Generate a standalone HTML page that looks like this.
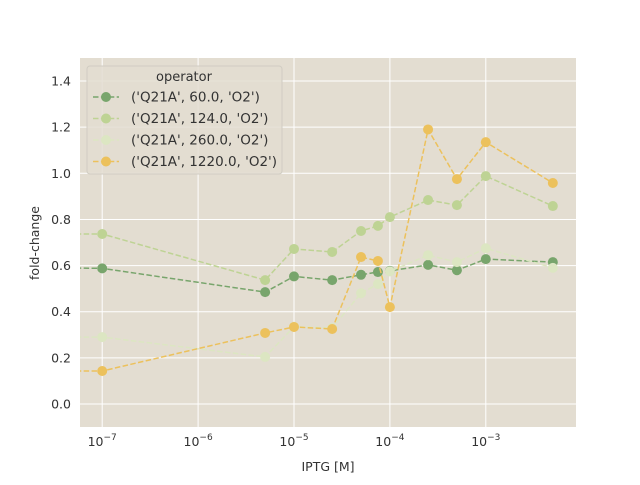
<!DOCTYPE html>
<html><head><meta charset="utf-8"><style>
body{margin:0;background:#fff;}
svg text{font-family:"DejaVu Sans","Liberation Sans",sans-serif;fill:#333;}
</style></head><body>
<svg id="chart" width="640" height="480" xmlns="http://www.w3.org/2000/svg">
<defs><clipPath id="clip"><rect x="80" y="58" width="496" height="369"/></clipPath></defs>
<rect x="80" y="58" width="496" height="369" fill="#e3ddd1"/>
<g id="grid"></g>
<g id="series" clip-path="url(#clip)"></g>
<g id="axes"></g>
<g id="legend"></g>
</svg>
<script>
const xValues=[3e-8,1e-7,5e-6,1e-5,2.5e-5,5e-5,7.5e-5,1e-4,2.5e-4,5e-4,1e-3,5e-3];
const seriesNames=["('Q21A', 60.0, 'O2')","('Q21A', 124.0, 'O2')","('Q21A', 260.0, 'O2')","('Q21A', 1220.0, 'O2')"];
const q60=[0.59,0.588,0.485,0.553,0.537,0.56,0.572,0.577,0.603,0.58,0.628,0.615];
const q124=[0.737,0.737,0.537,0.672,0.659,0.75,0.772,0.81,0.884,0.862,0.988,0.858];
const q260=[0.29,0.29,0.204,0.335,0.33,0.48,0.52,0.575,0.645,0.615,0.675,0.59];
const q1220=[0.143,0.143,0.308,0.334,0.325,0.637,0.62,0.42,1.19,0.975,1.135,0.958];
const yTicks=[0,0.2,0.4,0.6,0.8,1.0,1.2,1.4];
const xTicks=[-7,-6,-5,-4,-3];
const colors=["#78a56c","#bed394","#dce6c2","#ecc15c"];
const NS="http://www.w3.org/2000/svg";
function X(v){return 294+95.9*(Math.log10(v)+5);}
function Y(v){return 404-v*230.7;}
function mk(t,a,p){const e=document.createElementNS(NS,t);for(const k in a)e.setAttribute(k,a[k]);p.appendChild(e);return e;}
const grid=document.getElementById('grid'),axes=document.getElementById('axes'),ser=document.getElementById('series'),leg=document.getElementById('legend');
yTicks.forEach(t=>{const y=Y(t);
 const l=mk('line',{x1:80,x2:576,y1:y,y2:y,stroke:'#fff','stroke-width':1},grid);
 
 const tx=mk('text',{x:71,y:y+4.5,'text-anchor':'end','font-size':12.5},axes);tx.textContent=t.toFixed(1);
 });
xTicks.forEach(p=>{const x=X(Math.pow(10,p));
 const l=mk('line',{x1:x,x2:x,y1:58,y2:427,stroke:'#fff'},grid);
 
 const tx=mk('text',{x:x,y:446,'text-anchor':'middle','font-size':12.5},axes);
 tx.innerHTML='10<tspan dy="-6" font-size="9">−'+(-p)+'</tspan>';
 
});
let t=mk('text',{x:328,y:471,'text-anchor':'middle','font-size':12.5},axes);t.textContent='IPTG [M]';

t=mk('text',{x:0,y:0,'text-anchor':'middle','font-size':12.5,transform:'translate(39,243) rotate(-90)'},axes);t.textContent='fold-change';

[q60,q124,q260,q1220].forEach((vals,i)=>{
 const pts=xValues.map((x,j)=>X(x)+','+Y(vals[j])).join(' ');
 const pl=mk('polyline',{points:pts,fill:'none',stroke:colors[i],'stroke-width':1.5,'stroke-dasharray':'5.5,2.4'},ser);
 
 xValues.forEach((x,j)=>{const c=mk('circle',{cx:X(x),cy:Y(vals[j]),r:5,fill:colors[i]},ser);
  });
});
const lb=mk('rect',{x:87,y:66,width:195,height:108,rx:3,fill:'#e3ddd1',stroke:'#d0ccc2','fill-opacity':0.85},leg);

t=mk('text',{x:184,y:81,'text-anchor':'middle','font-size':13},leg);t.textContent='operator';

seriesNames.forEach((n,i)=>{const y=97+21.5*i;
 mk('line',{x1:93,x2:119,y1:y,y2:y,stroke:colors[i],'stroke-width':1.5,'stroke-dasharray':'5.5,2.4'},leg);
 mk('circle',{cx:106,cy:y,r:5,fill:colors[i]},leg);
 const tx=mk('text',{x:131,y:y+4.5,'font-size':13.5},leg);tx.textContent=n;
 });
</script>
</body></html>
